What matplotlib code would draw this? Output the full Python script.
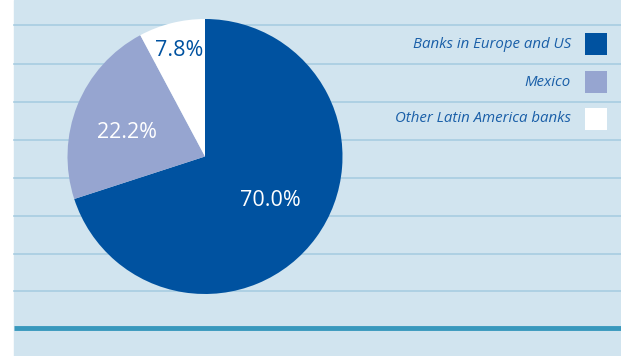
import matplotlib
matplotlib.use("Agg")
import matplotlib.pyplot as plt
from matplotlib.patches import Rectangle

categories = ["Banks in Europe and US", "Mexico", "Other Latin America banks"]
shares = [70.0, 22.2, 7.8]
colors = ["#0052a0", "#96a5d0", "#ffffff"]
label_colors = ["white", "white", "#0052a0"]

W, H = 621, 356
fig = plt.figure(figsize=(W / 100, H / 100), dpi=100)
ax = fig.add_axes([0, 0, 1, 1])
ax.set_xlim(0, W)
ax.set_ylim(0, H)
ax.axis("off")

def Y(yp):
    return H - yp

# panel background
ax.add_patch(Rectangle((14, 0), W - 14, H, color="#d1e4ef", zorder=0))
# horizontal rules
for yp in [25, 63.5, 101.5, 140, 178, 216, 253.5, 291]:
    ax.plot([14, W], [Y(yp), Y(yp)], color="#a8cde1", lw=1.2, zorder=1)
ax.plot([14, W], [Y(328), Y(328)], color="#3898bd", lw=3.5, zorder=1, solid_capstyle="butt")

wedges, texts = ax.pie(shares, colors=colors, startangle=90, counterclock=False,
                       center=(205, Y(156.5)), radius=137.5,
                       wedgeprops=dict(linewidth=0, zorder=2), frame=True)
ax.set_xlim(0, W)
ax.set_ylim(0, H)
ax.set_aspect("equal")
ax.axis("off")

label_pos = [(270.5, 201), (126.5, 133), (179, 50.5)]
for (xp, yp), v, c in zip(label_pos, shares, label_colors):
    ax.text(xp, Y(yp), f"{v:.1f}%", color=c, fontsize=15.5, ha="center", va="center",
            family="Open Sans", zorder=3)

# legend
leg_y = [44, 82, 119]
for name, col, yp in zip(categories, colors, leg_y):
    ax.text(571, Y(yp), name, color="#1a5fa8", fontsize=10.8, style="italic",
            ha="right", va="center", family="Open Sans", zorder=3)
    ax.add_patch(Rectangle((585, Y(yp) - 11), 22, 22, color=col, lw=0, zorder=3))

fig.savefig("out.png", dpi=100)
